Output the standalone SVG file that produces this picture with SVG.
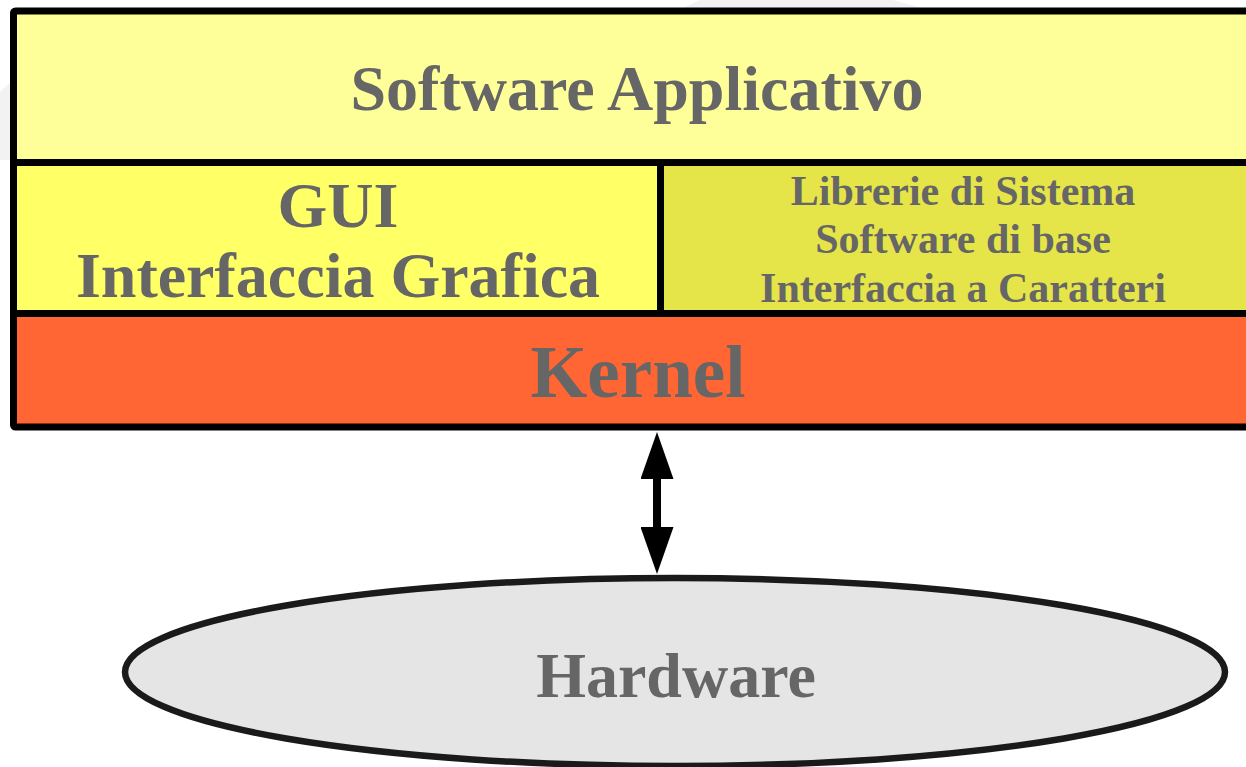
<svg xmlns="http://www.w3.org/2000/svg" width="1246" height="767" viewBox="0 0 1246 767">
<style>
.box{stroke:#000;stroke-width:7;}
.ell{stroke:#1a1a1a;stroke-width:6.5;}
.lbl{font-family:"Liberation Serif","Times New Roman",serif;font-weight:bold;fill:#666666;text-anchor:middle;}
</style>
<defs>
<marker id="ah" viewBox="0 0 47 33" refX="1" refY="16.5" markerWidth="47" markerHeight="33" markerUnits="userSpaceOnUse" orient="auto-start-reverse">
<path d="M0,0 L47,16.5 L0,33 Z" fill="#000"/>
</marker>
</defs>
<rect width="1246" height="767" fill="#fff"/>
<path d="M0,92 L14,79 L683,8 L700,0 L893,0 L922,8 L900,200 L14,160 L0,160 Z" fill="#f2f2f2"/>
<g id="software-applicativo">
<rect class="box" x="13.5" y="11" width="1250" height="151.5" rx="2" fill="#ffff99"/>
<text class="lbl" x="637" y="110" font-size="64">Software Applicativo</text>
</g>
<g id="gui">
<rect class="box" x="13.5" y="162.5" width="647" height="151" fill="#ffff66"/>
<text class="lbl" x="338" y="227" font-size="64">GUI</text>
<text class="lbl" x="338" y="297" font-size="64">Interfaccia Grafica</text>
</g>
<g id="librerie">
<rect class="box" x="660.5" y="162.5" width="602" height="151" fill="#e5e54a"/>
<text class="lbl" x="963" y="205" font-size="42">Librerie di Sistema</text>
<text class="lbl" x="963" y="253" font-size="42">Software di base</text>
<text class="lbl" x="963" y="302" font-size="42">Interfaccia a Caratteri</text>
</g>
<g id="kernel">
<rect class="box" x="13.5" y="313.5" width="1250" height="113.5" rx="2" fill="#ff6633"/>
<text class="lbl" x="638" y="397" font-size="73">Kernel</text>
</g>
<g id="hardware">
<ellipse class="ell" cx="675" cy="672" rx="550" ry="94" fill="#e5e5e5"/>
<text class="lbl" x="676" y="697" font-size="64">Hardware</text>
</g>
<g id="connectors">
<line x1="657" y1="478" x2="657" y2="528" stroke="#000" stroke-width="8" marker-start="url(#ah)" marker-end="url(#ah)"/>
</g>
</svg>
